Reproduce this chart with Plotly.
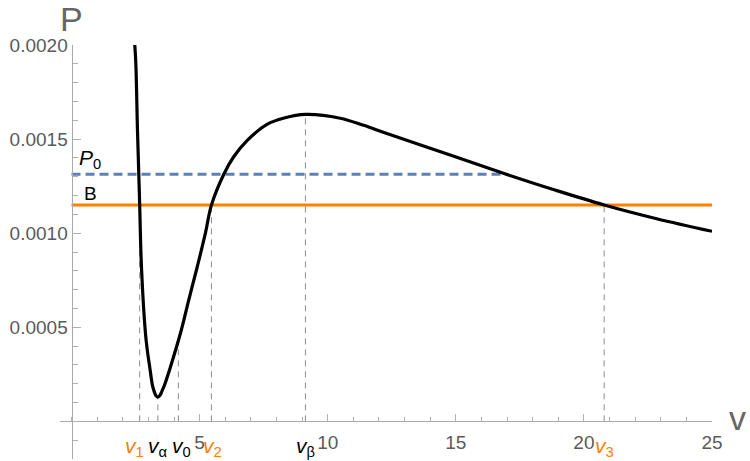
import plotly.graph_objects as go

# ---- data ----
curve_v = [2.469, 2.51, 2.574, 2.625, 2.66, 2.73, 2.886, 2.964, 3.054, 3.159, 3.237,
           3.29, 3.366, 3.45, 3.53, 3.63, 3.861, 4.251, 4.575, 4.903, 5.226,
           5.46, 5.94, 6.33, 6.85, 7.63, 8.3, 9.13, 10.49, 11.4, 12.31, 14.78, 16.97,
           18.9, 20.79, 22.84, 25.0]
curve_p = [0.002000, 0.001903, 0.001548, 0.001314, 0.001154, 0.000819, 0.000468,
           0.000372, 0.000287, 0.000191, 0.000154, 0.000137, 0.000129, 0.000137,
           0.000161, 0.000193, 0.000289, 0.000468, 0.000644, 0.000819, 0.001000,
           0.001149, 0.001312, 0.001406, 0.001492, 0.001578, 0.001612,
           0.001631, 0.001611, 0.001573, 0.001530, 0.001415, 0.001313, 0.001228,
           0.001150, 0.001077, 0.001010]

B_level = 0.00115
P0_level = 0.001313
P0_span = [0.0, 16.97]
B_span = [0.0, 25.0]

marker_names = ["v1", "valpha", "v0", "v2", "vbeta", "v3"]
marker_v = [2.66, 3.37, 4.17, 5.46, 9.13, 20.79]
marker_top = [0.00115, 0.000129, 0.00042, 0.00115, 0.00163, 0.00115]
marker_text = ["<i>v</i><sub>1</sub>", "<i>v</i><sub>α</sub>", "<i>v</i><sub>0</sub>",
               "<i>v</i><sub>2</sub>", "<i>v</i><sub>β</sub>", "<i>v</i><sub>3</sub>"]
marker_colors = ["#FF8000", "#000000", "#000000", "#FF8000", "#000000", "#FF8000"]
marker_label_shift = [-5, 0, 3, 1, 0, 0]

x_ticks = [5, 10, 15, 20, 25]
y_ticks = [0.0005, 0.0010, 0.0015, 0.0020]
y_ticktext = ["0.0005", "0.0010", "0.0015", "0.0020"]

x_range = [-0.45, 25.0]
y_range = [-0.0002, 0.0020]

FONT = "Liberation Sans, Arial, sans-serif"
TICKCOL = "#5a5a5a"

fig = go.Figure()

# vertical dashed guides
vx, vy = [], []
for v, top in zip(marker_v, marker_top):
    vx += [v, v, None]
    vy += [0, top, None]
fig.add_trace(go.Scatter(x=vx, y=vy, mode="lines",
                         line=dict(color="#8c8c8c", width=1, dash="6px,5px"),
                         hoverinfo="skip", showlegend=False))

# P0 dashed
fig.add_trace(go.Scatter(x=P0_span, y=[P0_level, P0_level], mode="lines",
                         line=dict(color="#5E81B5", width=3, dash="9px,5px"),
                         showlegend=False))
# B line
fig.add_trace(go.Scatter(x=B_span, y=[B_level, B_level], mode="lines",
                         line=dict(color="#FF8000", width=3),
                         showlegend=False))
# isotherm
fig.add_trace(go.Scatter(x=curve_v, y=curve_p, mode="lines",
                         line=dict(color="black", width=3.2, shape="spline", smoothing=1.0),
                         showlegend=False))

x0_frac = (0 - x_range[0]) / (x_range[1] - x_range[0])
y0_frac = (0 - y_range[0]) / (y_range[1] - y_range[0])

fig.update_layout(
    width=750, height=461,
    margin=dict(l=60, r=38, t=45, b=2),
    plot_bgcolor="white", paper_bgcolor="white",
    font=dict(family=FONT, size=19, color=TICKCOL),
    xaxis=dict(range=x_range, anchor="free", position=y0_frac,
               showgrid=False, zeroline=False, showline=True,
               linecolor="#aaaaaa", linewidth=1,
               tickmode="array", tickvals=x_ticks, ticktext=[str(t) for t in x_ticks],
               ticks="inside", ticklen=7, tickcolor="#b0b0b0", tickwidth=1,
               ticklabelstandoff=4,
               tickfont=dict(family=FONT, size=19, color=TICKCOL),
               minor=dict(tickmode="linear", tick0=0, dtick=1, ticks="inside",
                          ticklen=4, tickcolor="#b0b0b0", showgrid=False)),
    yaxis=dict(range=y_range, anchor="free", position=x0_frac,
               showgrid=False, zeroline=False, showline=True,
               linecolor="#aaaaaa", linewidth=1,
               tickmode="array", tickvals=y_ticks, ticktext=y_ticktext,
               ticks="inside", ticklen=8, tickcolor="#b0b0b0", tickwidth=1,
               tickfont=dict(family=FONT, size=19, color=TICKCOL),
               minor=dict(tickmode="linear", tick0=0, dtick=0.0001, ticks="inside",
                          ticklen=5, tickcolor="#b0b0b0", showgrid=False)),
)

# special v tick labels
for v, t, c, s in zip(marker_v, marker_text, marker_colors, marker_label_shift):
    fig.add_annotation(x=v, y=0, xref="x", yref="y", text=t, showarrow=False,
                       yanchor="top", yshift=-11, xshift=s,
                       font=dict(family=FONT, size=21, color=c))

# axis titles
fig.add_annotation(x=0, y=1, xref="x", yref="paper", text="P", showarrow=False,
                   yanchor="bottom", yshift=5, xshift=0,
                   font=dict(family=FONT, size=34, color="#666666"))
fig.add_annotation(x=1, y=0, xref="paper", yref="y", text="v", showarrow=False,
                   xanchor="left", xshift=15, yshift=3,
                   font=dict(family=FONT, size=34, color="#666666"))

# line labels
fig.add_annotation(x=0.2, y=P0_level, xref="x", yref="y", text="<i>P</i><sub>0</sub>",
                   showarrow=False, xanchor="left", yanchor="bottom", yshift=0,
                   font=dict(family=FONT, size=21, color="black"))
fig.add_annotation(x=0.4, y=B_level, xref="x", yref="y", text="B",
                   showarrow=False, xanchor="left", yanchor="bottom", yshift=-1,
                   font=dict(family=FONT, size=19, color="black"))

fig.write_html("out.html")
